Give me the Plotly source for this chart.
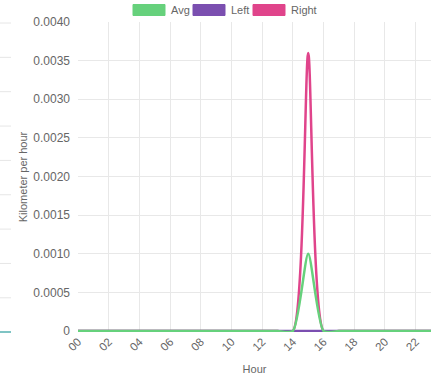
import plotly.graph_objects as go

hours = list(range(24))
hour_labels = ["%02d" % h for h in range(0, 24, 2)]
avg = [0]*15 + [0.001] + [0]*8
left = [0]*24
right = [0]*15 + [0.0036] + [0]*8
y_ticks = [0, 0.0005, 0.001, 0.0015, 0.002, 0.0025, 0.003, 0.0035, 0.004]
y_labels = ["0", "0.0005", "0.0010", "0.0015", "0.0020", "0.0025", "0.0030", "0.0035", "0.0040"]
series_names = ["Avg", "Left", "Right"]
series_colors = ["#66d17c", "#7b4fb0", "#e0448b"]

W, H = 434, 376
ML, MR, MT, MB = 78, 3, 22, 44
PW, PH = W - ML - MR, H - MT - MB

def px2x(px):
    return (px - ML) / PW

def px2y(py):
    return (H - MB - py) / PH

FONT = "Liberation Sans, Arial, sans-serif"
fig = go.Figure()
for name, vals, col in [("Right", right, series_colors[2]), ("Left", left, series_colors[1]), ("Avg", avg, series_colors[0])]:
    fig.add_trace(go.Scatter(x=hours, y=vals, mode="lines", name=name,
                             line=dict(color=col, width=2.5, shape="spline", smoothing=0.6),
                             showlegend=False, hoverinfo="skip"))

shapes = []
annotations = []
# legend drawn manually
legend_boxes = [(133, 165, 169), (193, 225, 229), (253, 285, 289)]
for (x0, x1, tx), name, col in zip(legend_boxes, series_names, series_colors):
    shapes.append(dict(type="rect", xref="paper", yref="paper",
                       x0=px2x(x0), x1=px2x(x1), y0=px2y(15.5), y1=px2y(4.5),
                       fillcolor=col, line=dict(color=col, width=1), layer="above"))
    annotations.append(dict(x=px2x(tx), y=px2y(10), xref="paper", yref="paper",
                            text=name, showarrow=False, xanchor="left", yanchor="middle",
                            font=dict(family=FONT, size=11, color="#666")))

# remnant of neighbouring chart at left edge
for i in range(9):
    yy = 23 + i * 34.35
    shapes.append(dict(type="line", xref="paper", yref="paper",
                       x0=px2x(0), x1=px2x(11), y0=px2y(yy), y1=px2y(yy),
                       line=dict(color="#e6e6e6", width=1)))
shapes.append(dict(type="line", xref="paper", yref="paper",
                   x0=px2x(0), x1=px2x(11), y0=px2y(332), y1=px2y(332),
                   line=dict(color="#7fc4c4", width=2)))

fig.update_layout(
    width=W, height=H,
    margin=dict(l=ML, r=MR, t=MT, b=MB, autoexpand=False),
    paper_bgcolor="white", plot_bgcolor="white",
    showlegend=False,
    font=dict(family=FONT, size=12, color="#666"),
    shapes=shapes, annotations=annotations,
    xaxis=dict(range=[0, 23], tickmode="array", tickvals=list(range(0, 24, 2)),
               ticktext=hour_labels, tickangle=-45, showgrid=True, gridcolor="#e8e8e8",
               gridwidth=1, zeroline=False, showline=False, ticks="", automargin=False,
               tickfont=dict(size=11.5, color="#666"),
               title=dict(text="Hour", font=dict(size=11, color="#666"), standoff=13)),
    yaxis=dict(range=[-0.000012, 0.004], tickmode="array", tickvals=y_ticks, ticktext=y_labels,
               showgrid=True, gridcolor="#e8e8e8", gridwidth=1, zeroline=False,
               showline=False, ticks="", ticklabelstandoff=7, automargin=False,
               tickfont=dict(size=12, color="#666"),
               title=dict(text="Kilometer per hour", font=dict(size=11, color="#666"), standoff=3)),
)
fig.write_html("out.html", config={"displayModeBar": False},
               post_script="document.body.style.margin='0';document.body.style.padding='0';")
